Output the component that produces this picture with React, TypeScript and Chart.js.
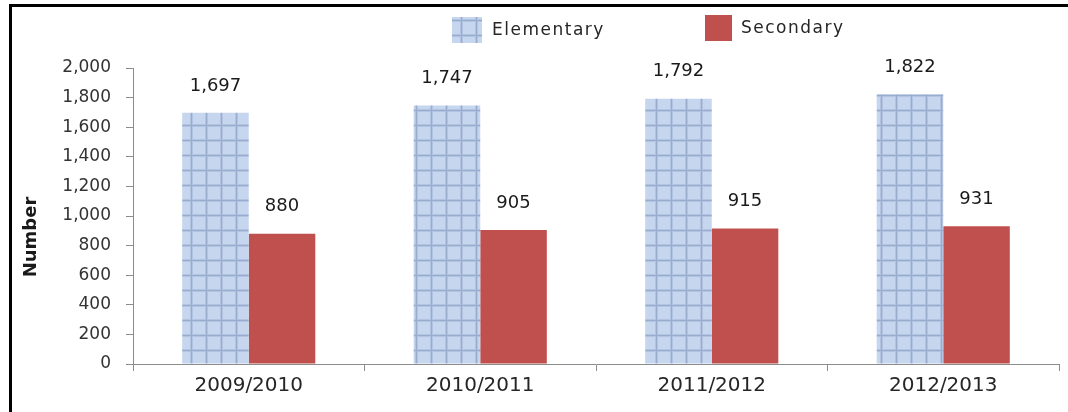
import { useEffect, useRef } from "react";
import { Chart, registerables } from "chart.js";

Chart.register(...registerables);

const categories = ["2009/2010", "2010/2011", "2011/2012", "2012/2013"];
const elementary = [1697, 1747, 1792, 1822];
const secondary = [880, 905, 915, 931];
const seriesNames = ["Elementary", "Secondary"];
const yAxisTitle = "Number";
const yMin = 0;
const yMax = 2000;
const yStep = 200;

const FONT = "'DejaVu Sans', sans-serif";

function makeGridPattern(): CanvasPattern | string {
  const tile = document.createElement("canvas");
  tile.width = 15;
  tile.height = 15;
  const c = tile.getContext("2d");
  if (!c) return "#c5d5ec";
  c.fillStyle = "#c6d6ef";
  c.fillRect(0, 0, 15, 15);
  c.fillStyle = "#b2c4e1";
  c.fillRect(10, 0, 3, 15);
  c.fillRect(0, 4, 15, 3);
  c.fillStyle = "#98accd";
  c.fillRect(11, 0, 1, 15);
  c.fillRect(0, 5, 15, 1);
  const p = c.createPattern(tile, "repeat");
  return p || "#c5d5ec";
}

const fmt = (v: number) => Number(v).toLocaleString("en-US");

const legendLayout = [
  { x: 452, y: 17, w: 30, h: 26, tx: 492, ty: 31 },
  { x: 705, y: 15, w: 27, h: 26, tx: 741, ty: 29 },
];

const customLegend = {
  id: "customLegend",
  afterDraw(chart: any) {
    const ctx = chart.ctx as CanvasRenderingContext2D;
    ctx.save();
    chart.data.datasets.forEach((ds: any, i: number) => {
      const L = legendLayout[i];
      if (!L) return;
      ctx.fillStyle = ds.backgroundColor;
      ctx.fillRect(L.x, L.y, L.w, L.h);
      ctx.fillStyle = "#262626";
      ctx.font = `17px ${FONT}`;
      (ctx as any).letterSpacing = "1.5px";
      ctx.textAlign = "left";
      ctx.textBaseline = "middle";
      ctx.fillText(ds.label, L.tx, L.ty);
    });
    ctx.restore();
  },
};

const valueLabels = {
  id: "valueLabels",
  afterDatasetsDraw(chart: any) {
    const ctx = chart.ctx as CanvasRenderingContext2D;
    ctx.save();
    ctx.fillStyle = "#1a1a1a";
    ctx.font = `18px ${FONT}`;
    ctx.textAlign = "center";
    ctx.textBaseline = "middle";
    chart.data.datasets.forEach((ds: any, i: number) => {
      const meta = chart.getDatasetMeta(i);
      meta.data.forEach((bar: any, j: number) => {
        ctx.fillText(fmt(ds.data[j]), bar.x, bar.y - 27);
      });
    });
    ctx.restore();
  },
};

const yTitlePlugin = {
  id: "yTitle",
  afterDraw(chart: any) {
    const ctx = chart.ctx as CanvasRenderingContext2D;
    ctx.save();
    ctx.translate(31, 237);
    ctx.rotate(-Math.PI / 2);
    ctx.fillStyle = "#1a1a1a";
    ctx.font = `bold 18px ${FONT}`;
    ctx.textAlign = "center";
    ctx.textBaseline = "middle";
    ctx.fillText(yAxisTitle, 0, 0);
    ctx.restore();
  },
};

export default function App() {
  const ref = useRef<HTMLCanvasElement | null>(null);

  useEffect(() => {
    if (!ref.current) return;
    const pattern = makeGridPattern();
    const chart = new Chart(ref.current, {
      type: "bar",
      data: {
        labels: categories,
        datasets: [
          {
            label: seriesNames[0],
            data: elementary,
            backgroundColor: pattern as any,
            borderWidth: 0,
            categoryPercentage: 0.575,
            barPercentage: 1.0,
          },
          {
            label: seriesNames[1],
            data: secondary,
            backgroundColor: "#c0504d",
            borderWidth: 0,
            categoryPercentage: 0.575,
            barPercentage: 1.0,
          },
        ],
      },
      options: {
        responsive: false,
        animation: false,
        layout: { padding: { left: 20, right: 9, top: 68, bottom: 0 } },
        plugins: {
          legend: { display: false },
          tooltip: { enabled: false },
          title: { display: false },
        },
        scales: {
          x: {
            offset: true,
            grid: {
              offset: true,
              drawOnChartArea: false,
              drawTicks: true,
              tickLength: 7,
              color: "#8c8c8c",
            },
            border: { display: true, color: "#8c8c8c", width: 1 },
            ticks: {
              color: "#262626",
              font: { family: FONT, size: 20 },
              padding: 3,
              maxRotation: 0,
            },
            afterFit(scale: any) {
              scale.height = 48;
            },
          },
          y: {
            min: yMin,
            max: yMax,
            grid: {
              drawOnChartArea: false,
              drawTicks: true,
              tickLength: 7,
              color: "#8c8c8c",
            },
            border: { display: true, color: "#8c8c8c", width: 1 },
            ticks: {
              stepSize: yStep,
              color: "#333333",
              font: { family: FONT, size: 17 },
              padding: 15,
              callback: (v: any) => fmt(Number(v)),
            },
            afterFit(scale: any) {
              scale.width = 113;
            },
          },
        },
      },
      plugins: [valueLabels, customLegend, yTitlePlugin],
    });
    return () => chart.destroy();
  }, []);

  return (
    <div style={{ position: "absolute", left: 0, top: 0, width: 1068, height: 412, background: "#fff" }}>
      <canvas ref={ref} width={1068} height={412} style={{ display: "block", width: 1068, height: 412 }} />
      <div
        style={{
          position: "absolute",
          left: 9,
          top: 4,
          right: 0,
          bottom: 0,
          borderTop: "3px solid #000",
          borderLeft: "3px solid #000",
          pointerEvents: "none",
        }}
      />
    </div>
  );
}
